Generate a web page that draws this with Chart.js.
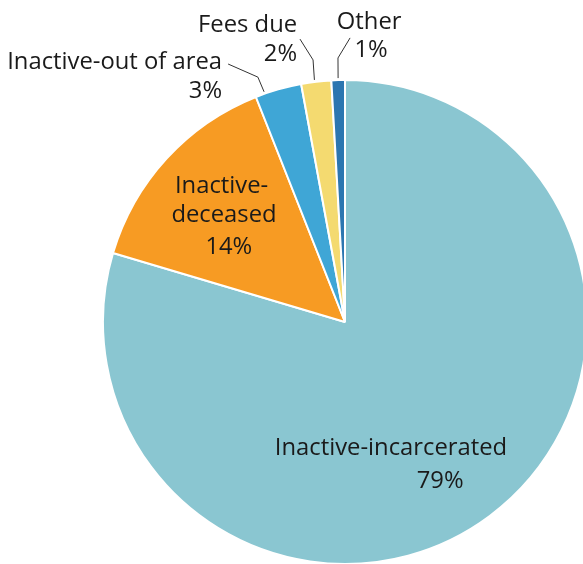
<!DOCTYPE html>
<html>
<head>
<meta charset="utf-8">
<script src="https://cdn.jsdelivr.net/npm/chart.js@4/dist/chart.umd.min.js"></script>
<style>
html,body{margin:0;padding:0;background:#fff;overflow:hidden;}
#wrap{width:600px;height:565px;}
</style>
</head>
<body>
<div id="wrap"><canvas id="c" width="600" height="565"></canvas></div>
<script>
const categories = ["Inactive-incarcerated", "Inactive-deceased", "Inactive-out of area", "Fees due", "Other"];
const values = [79.6, 14.4, 3.1, 2.0, 0.9];
const percentLabels = ["79%", "14%", "3%", "2%", "1%"];
const colors = ["#8AC6D1", "#F79B23", "#3FA6D6", "#F4DA70", "#2C76B0"];

// label layout in units of pie radius relative to pie centre
const labelLayout = [
  {lines: [["Inactive-incarcerated", 0.19, 0.521, "center"], [null, 0.393, 0.657, "center"]]},
  {lines: [["Inactive-", -0.51, -0.56, "center"], ["deceased", -0.50, -0.44, "center"], [null, -0.48, -0.31, "center"]]},
  {lines: [["Inactive-out of area", -0.508, -1.075, "right"], [null, -0.508, -0.955, "right"]],
   leader: [[-0.483, -1.066], [-0.36, -1.012]], anchor: 0.2},
  {lines: [["Fees due", -0.198, -1.226, "right"], [null, -0.198, -1.107, "right"]],
   leader: [[-0.186, -1.169], [-0.132, -1.083]], anchor: 0.45},
  {lines: [["Other", 0.1, -1.24, "center"], [null, 0.108, -1.124, "center"]],
   leader: [[0.021, -1.174], [-0.029, -1.091]], anchor: 0.5}
];

const labelPlugin = {
  id: 'pieLabels',
  afterDatasetsDraw(chart) {
    const ctx = chart.ctx;
    const meta = chart.getDatasetMeta(0);
    ctx.save();
    ctx.font = '23.8px "Open Sans"';
    ctx.fillStyle = '#1a1a1a';
    ctx.textBaseline = 'middle';
    meta.data.forEach((arc, i) => {
      const cx = arc.x, cy = arc.y, r = arc.outerRadius;
      const lay = labelLayout[i];
      lay.lines.forEach(([txt, fx, fy, align]) => {
        ctx.textAlign = align;
        ctx.fillText(txt === null ? percentLabels[i] : txt, cx + fx * r, cy + fy * r);
      });
      if (lay.leader) {
        const a = arc.startAngle + lay.anchor * (arc.endAngle - arc.startAngle);
        const ex = cx + Math.cos(a) * (r + 2), ey = cy + Math.sin(a) * (r + 2);
        ctx.beginPath();
        ctx.strokeStyle = '#333';
        ctx.lineWidth = 1;
        ctx.moveTo(cx + lay.leader[0][0] * r, cy + lay.leader[0][1] * r);
        ctx.lineTo(cx + lay.leader[1][0] * r, cy + lay.leader[1][1] * r);
        ctx.lineTo(ex, ey);
        ctx.stroke();
      }
    });
    ctx.restore();
  }
};

new Chart(document.getElementById('c'), {
  type: 'pie',
  data: {
    labels: categories,
    datasets: [{
      data: values,
      backgroundColor: colors,
      borderColor: '#ffffff',
      borderWidth: 2
    }]
  },
  options: {
    responsive: false,
    animation: false,
    layout: {padding: {left: 102, right: 12, top: 79, bottom: 0}},
    plugins: {legend: {display: false}, tooltip: {enabled: false}}
  },
  plugins: [labelPlugin]
});
</script>
</body>
</html>
